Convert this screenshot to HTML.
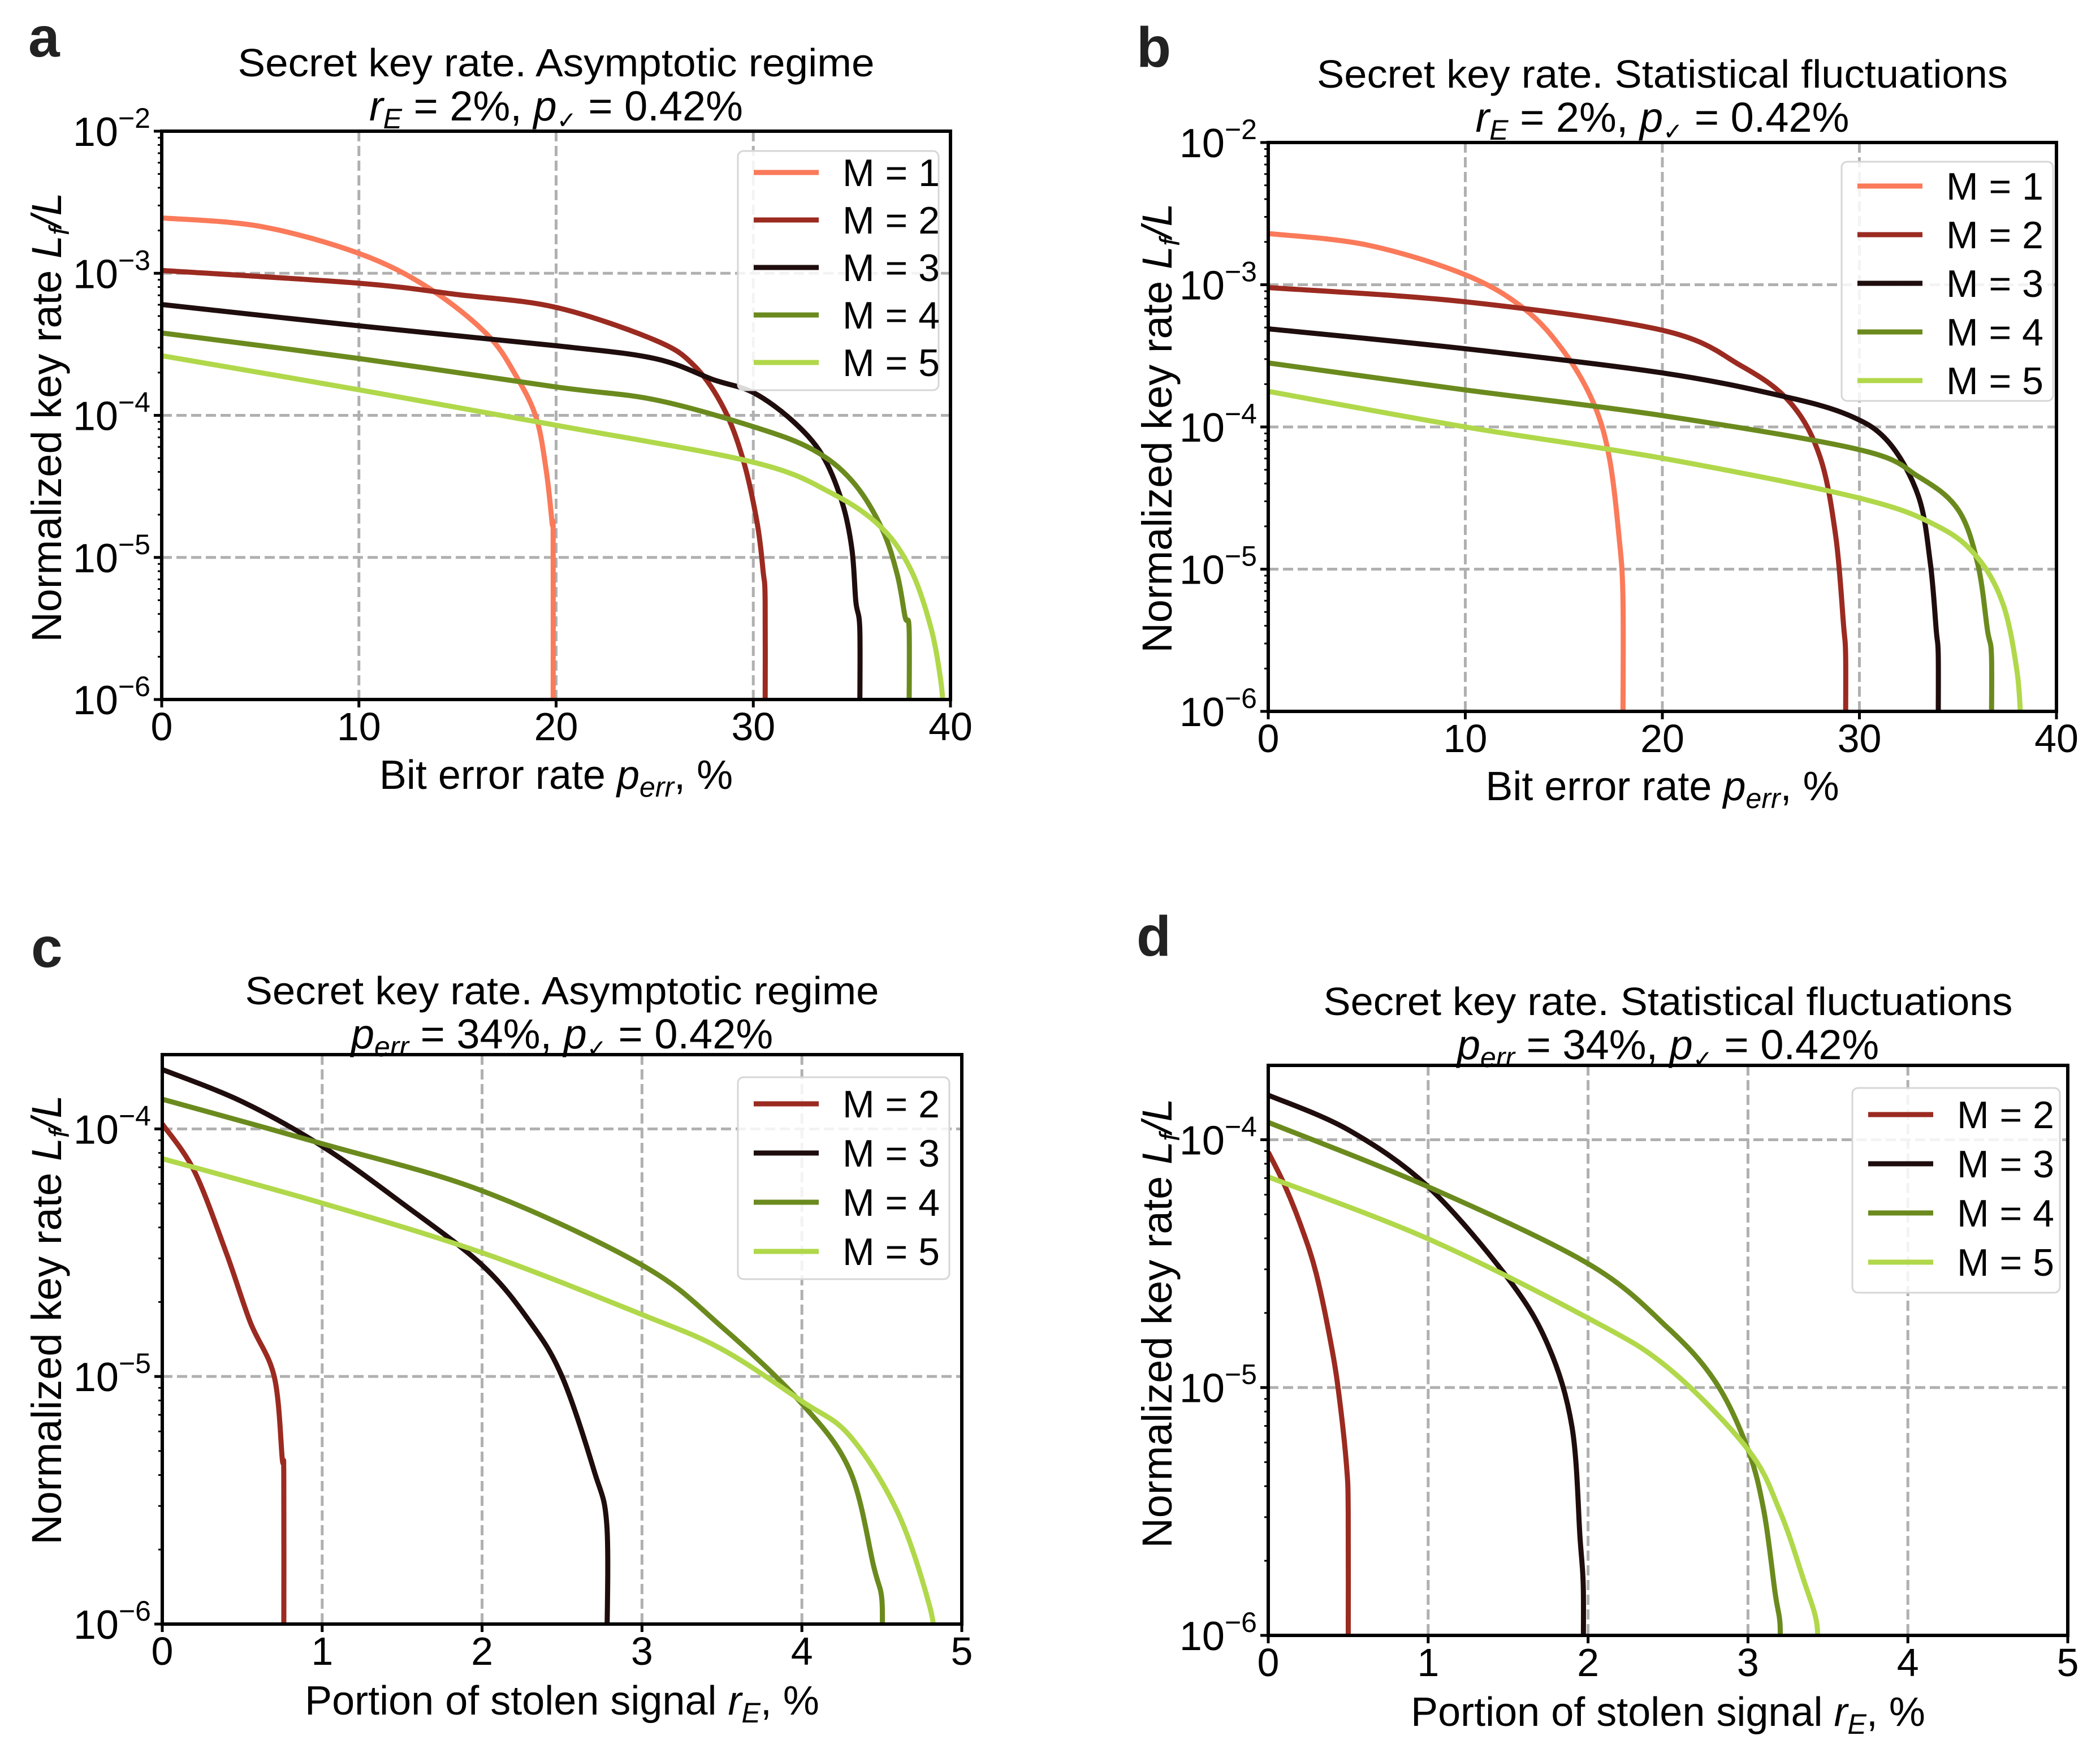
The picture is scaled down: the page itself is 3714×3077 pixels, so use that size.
<!DOCTYPE html>
<html><head><meta charset="utf-8">
<style>
html,body{margin:0;padding:0;background:#fff;}
svg{display:block;font-family:"Liberation Sans","DejaVu Sans",sans-serif;}
</style></head>
<body>
<svg id="fig" width="3714" height="3077" viewBox="0 0 3714 3077" xmlns="http://www.w3.org/2000/svg"></svg>
<script>
// ---- data: x values and log10(normalized key rate) ----
const aM1x=[0,5,10,13.5,16.5,18,19,19.5,19.8,19.85,19.85];
const aM1y=[-2.61,-2.67,-2.86,-3.10,-3.43,-3.73,-4.02,-4.39,-4.76,-4.85,-6.1];
const aM2x=[0,10,15,20,25,27,28.5,29.5,30.2,30.5,30.6,30.6];
const aM2y=[-2.98,-3.07,-3.15,-3.24,-3.47,-3.65,-3.95,-4.32,-4.76,-5.1,-5.3,-6.1];
const aM3x=[0,10,20,25,28,30,32,33.5,34.5,35,35.2,35.4,35.4];
const aM3y=[-3.22,-3.37,-3.51,-3.60,-3.75,-3.84,-4.04,-4.28,-4.61,-4.94,-5.31,-5.5,-6.1];
const aM4x=[0,10,20,25,30,33,35,36.5,37.3,37.7,37.9,37.9];
const aM4y=[-3.42,-3.60,-3.80,-3.89,-4.08,-4.24,-4.46,-4.79,-5.12,-5.42,-5.5,-6.1];
const aM5x=[0,10,20,30,34,36.5,38,39,39.5,39.65];
const aM5y=[-3.58,-3.82,-4.07,-4.33,-4.55,-4.79,-5.09,-5.49,-5.86,-6.1];

const bM1x=[0,5,10,13,15,16.5,17.3,17.8,18,18];
const bM1y=[-2.64,-2.72,-2.93,-3.17,-3.47,-3.83,-4.21,-4.77,-5.2,-6.1];
const bM2x=[0,10,20,24,26.5,28,28.8,29.2,29.3,29.3];
const bM2y=[-3.02,-3.12,-3.32,-3.57,-3.83,-4.21,-4.77,-5.4,-5.6,-6.1];
const bM3x=[0,10,20,26,29.5,31.5,33,33.6,33.9,34,34];
const bM3y=[-3.31,-3.45,-3.62,-3.78,-3.92,-4.11,-4.49,-4.96,-5.43,-5.6,-6.1];
const bM4x=[0,10,20,30,33,35,36,36.5,36.7,36.7];
const bM4y=[-3.55,-3.74,-3.92,-4.16,-4.35,-4.58,-4.96,-5.43,-5.6,-6.1];
const bM5x=[0,10,20,30,34,36,37.3,38,38.2];
const bM5y=[-3.75,-4.00,-4.22,-4.50,-4.70,-4.92,-5.25,-5.72,-6.1];

const cM2x=[0,0.2,0.4,0.55,0.7,0.75,0.76,0.76];
const cM2y=[-3.98,-4.17,-4.50,-4.78,-5.00,-5.33,-5.4,-6.1];
const cM3x=[0,0.5,1,1.5,2,2.3,2.5,2.7,2.78,2.78];
const cM3y=[-3.76,-3.89,-4.07,-4.30,-4.55,-4.78,-5.00,-5.38,-5.6,-6.1];
const cM4x=[0,1,2,3,3.5,4,4.3,4.45,4.5,4.5];
const cM4y=[-3.88,-4.06,-4.25,-4.55,-4.80,-5.11,-5.38,-5.77,-5.9,-6.1];
const cM5x=[0,1,2,3,3.5,4,4.3,4.6,4.8,4.83];
const cM5y=[-4.12,-4.30,-4.50,-4.75,-4.89,-5.10,-5.24,-5.55,-5.93,-6.1];

const dM2x=[0,0.1,0.2,0.3,0.4,0.45,0.49,0.5,0.5];
const dM2y=[-4.05,-4.18,-4.34,-4.54,-4.85,-5.07,-5.32,-5.5,-6.1];
const dM3x=[0,0.5,1,1.5,1.75,1.9,1.95,1.97,1.97];
const dM3y=[-3.82,-3.96,-4.19,-4.56,-4.83,-5.16,-5.61,-5.8,-6.1];
const dM4x=[0,1,2,2.5,2.8,3,3.1,3.17,3.2,3.2];
const dM4y=[-3.93,-4.19,-4.50,-4.76,-4.98,-5.25,-5.50,-5.83,-5.95,-6.1];
const dM5x=[0,1,2,2.5,3,3.2,3.35,3.43,3.43];
const dM5y=[-4.15,-4.40,-4.72,-4.92,-5.25,-5.50,-5.78,-5.95,-6.1];

const xTicksPerr=[0,10,20,30,40];
const xTicksRE=[0,1,2,3,4,5];
const yTicksAB=[-2,-3,-4,-5,-6];
const yTicksCD=[-4,-5,-6];

const COLORS={1:"#fa7a5a",2:"#9b2a20",3:"#1f0d0d",4:"#6b8a1e",5:"#b0d84a"};
const NS="http://www.w3.org/2000/svg";
const svg=document.getElementById('fig');

function mk(parent,tag,attrs,text){
  const e=document.createElementNS(NS,tag);
  for(const k in attrs) e.setAttribute(k,attrs[k]);
  if(text!==undefined) e.textContent=text;
  parent.appendChild(e);
  return e;
}

function smoothPath(pts){
  let d='M'+pts[0][0].toFixed(1)+','+pts[0][1].toFixed(1);
  for(let i=0;i<pts.length-1;i++){
    const p0=pts[Math.max(0,i-1)],p1=pts[i],p2=pts[i+1],p3=pts[Math.min(pts.length-1,i+2)];
    const c1=[p1[0]+(p2[0]-p0[0])/6,p1[1]+(p2[1]-p0[1])/6];
    const c2=[p2[0]-(p3[0]-p1[0])/6,p2[1]-(p3[1]-p1[1])/6];
    d+=' C'+c1[0].toFixed(1)+','+c1[1].toFixed(1)+' '+c2[0].toFixed(1)+','+c2[1].toFixed(1)+' '+p2[0].toFixed(1)+','+p2[1].toFixed(1);
  }
  return d;
}

function panel(p){
  const g=mk(svg,'g',{});
  
  
  const sx=v=>p.L+(v-p.xmin)/(p.xmax-p.xmin)*p.W;
  const sy=v=>p.T+(p.ymax-v)/(p.ymax-p.ymin)*p.H;
  const cp=mk(g,'clipPath',{id:'clip'+p.id});
  mk(cp,'rect',{x:p.L,y:p.T,width:p.W,height:p.H});
  p.grid.x.forEach(v=>{
    const l=mk(g,'line',{x1:sx(v),x2:sx(v),y1:p.T,y2:p.T+p.H,stroke:'#b0b0b0','stroke-width':5,'stroke-dasharray':'18,8'});
    
    
  });
  p.grid.y.forEach(v=>{
    const l=mk(g,'line',{x1:p.L,x2:p.L+p.W,y1:sy(v),y2:sy(v),stroke:'#b0b0b0','stroke-width':5,'stroke-dasharray':'18,8'});
    
    
  });
  p.series.forEach(s=>{
    const pts=s.x.map((v,i)=>[sx(v),sy(s.y[i])]);
    const path=mk(g,'path',{d:smoothPath(pts),fill:'none',stroke:COLORS[s.m],'stroke-width':9,'stroke-linejoin':'round','clip-path':'url(#clip'+p.id+')'});
    
    
  });
  for(let e=Math.ceil(p.ymin)-1;e<p.ymax;e++){
    for(let k=2;k<=9;k++){
      const v=e+Math.log10(k);
      if(v>p.ymax||v<p.ymin) continue;
      mk(g,'line',{x1:p.L-7,x2:p.L,y1:sy(v),y2:sy(v),stroke:'#000','stroke-width':3});
    }
  }
  const fr=mk(g,'rect',{x:p.L,y:p.T,width:p.W,height:p.H,fill:'none',stroke:'#000','stroke-width':6});
  
  
  p.xticks.forEach(v=>{
    mk(g,'line',{x1:sx(v),x2:sx(v),y1:p.T+p.H,y2:p.T+p.H+14,stroke:'#000','stroke-width':5});
    const t=mk(g,'text',{x:sx(v),y:p.T+p.H+72,'text-anchor':'middle','font-size':70},String(v));
    
    
  });
  p.yticks.forEach(v=>{
    mk(g,'line',{x1:p.L-14,x2:p.L,y1:sy(v),y2:sy(v),stroke:'#000','stroke-width':5});
    const t=mk(g,'text',{x:p.L-20,y:sy(v)+26,'text-anchor':'end','font-size':72});
    
    
    mk(t,'tspan',{},'10');
    mk(t,'tspan',{'font-size':50,dy:-32},'\u2212'+Math.abs(v));
  });
  const t1=mk(g,'text',{x:p.L+p.W/2,y:p.titleY,'text-anchor':'middle','font-size':70,textLength:p.titleW,lengthAdjust:'spacingAndGlyphs'},p.title);
  
  
  const t2=mk(g,'text',{x:p.L+p.W/2,y:p.titleY+78,'text-anchor':'middle','font-size':74});
  
  
  p.sub.forEach(seg=>{mk(t2,'tspan',seg.a||{},seg.t);});
  const xl=mk(g,'text',{x:p.L+p.W/2,y:p.xlabY,'text-anchor':'middle','font-size':72});
  
  
  p.xlab.forEach(seg=>{mk(xl,'tspan',seg.a||{},seg.t);});
  const yl=mk(g,'text',{x:0,y:0,'text-anchor':'middle','font-size':74,transform:'translate('+p.ylabX+','+p.ylabY+') rotate(-90)'});
  
  
  mk(yl,'tspan',{},'Normalized key rate ');
  mk(yl,'tspan',{'font-style':'italic'},'L');
  mk(yl,'tspan',{'font-style':'italic','font-size':50,dy:14},'f');
  mk(yl,'tspan',{'font-style':'italic',dy:-14},'/L');
  const pl=mk(g,'text',{x:p.letter[0],y:p.letter[1],'font-size':100,'font-weight':'bold',fill:'#222'},p.id);
  
  
  const lg=mk(g,'g',{});
  
  
  const b=p.leg;
  mk(lg,'rect',{x:b.x,y:b.y,width:b.w,height:b.h,rx:10,fill:'#fff','fill-opacity':0.85,stroke:'#d6d6d6','stroke-width':3});
  p.series.forEach((s,i)=>{
    const yy=b.y0+i*b.dy;
    const ent=mk(lg,'g',{});
    
    
    mk(ent,'line',{x1:b.x+28,x2:b.x+143,y1:yy,y2:yy,stroke:COLORS[s.m],'stroke-width':9});
    mk(ent,'text',{x:b.x+185,y:yy+24,'font-size':68},'M = '+s.m);
  });
}

const it={'font-style':'italic'};
const subE=[{t:'r',a:it},{t:'E',a:{'font-style':'italic','font-size':50,dy:14}},{t:' = 2%, ',a:{dy:-14}},{t:'p',a:it},{t:'\u2713',a:{'font-size':42,dy:14}},{t:' = 0.42%',a:{dy:-14}}];
const subP=[{t:'p',a:it},{t:'err',a:{'font-style':'italic','font-size':50,dy:14}},{t:' = 34%, ',a:{dy:-14}},{t:'p',a:it},{t:'\u2713',a:{'font-size':42,dy:14}},{t:' = 0.42%',a:{dy:-14}}];
const xlabPerr=[{t:'Bit error rate '},{t:'p',a:it},{t:'err',a:{'font-style':'italic','font-size':50,dy:14}},{t:', %',a:{dy:-14}}];
const xlabRE=[{t:'Portion of stolen signal '},{t:'r',a:it},{t:'E',a:{'font-style':'italic','font-size':50,dy:14}},{t:',  %',a:{dy:-14}}];

panel({id:'a',L:286,T:232,W:1395,H:1005,xmin:0,xmax:40,ymin:-6,ymax:-2,
  grid:{x:[10,20,30],y:[-3,-4,-5]},xticks:xTicksPerr,yticks:yTicksAB,
  title:'Secret key rate. Asymptotic regime',titleW:1126,titleY:135,sub:subE,xlab:xlabPerr,xlabY:1395,ylabX:108,ylabY:738,letter:[50,100],
  leg:{x:1305,y:267,w:355,h:423,y0:305,dy:84},
  series:[{m:1,x:aM1x,y:aM1y},{m:2,x:aM2x,y:aM2y},{m:3,x:aM3x,y:aM3y},{m:4,x:aM4x,y:aM4y},{m:5,x:aM5x,y:aM5y}]});
panel({id:'b',L:2243,T:252,W:1394,H:1006,xmin:0,xmax:40,ymin:-6,ymax:-2,
  grid:{x:[10,20,30],y:[-3,-4,-5]},xticks:xTicksPerr,yticks:yTicksAB,
  title:'Secret key rate. Statistical fluctuations',titleW:1222,titleY:155,sub:subE,xlab:xlabPerr,xlabY:1415,ylabX:2072,ylabY:757,letter:[2010,118],
  leg:{x:3257,y:286,w:374,h:423,y0:329,dy:86},
  series:[{m:1,x:bM1x,y:bM1y},{m:2,x:bM2x,y:bM2y},{m:3,x:bM3x,y:bM3y},{m:4,x:bM4x,y:bM4y},{m:5,x:bM5x,y:bM5y}]});
panel({id:'c',L:287,T:1865,W:1414,H:1007,xmin:0,xmax:5,ymin:-6,ymax:-3.7,
  grid:{x:[1,2,3,4],y:[-4,-5]},xticks:xTicksRE,yticks:yTicksCD,
  title:'Secret key rate. Asymptotic regime',titleW:1121,titleY:1776,sub:subP,xlab:xlabRE,xlabY:3032,ylabX:108,ylabY:2334,letter:[55,1710],
  leg:{x:1305,y:1905,w:374,h:357,y0:1952,dy:87},
  series:[{m:2,x:cM2x,y:cM2y},{m:3,x:cM3x,y:cM3y},{m:4,x:cM4x,y:cM4y},{m:5,x:cM5x,y:cM5y}]});
panel({id:'d',L:2243,T:1884,W:1414,H:1008,xmin:0,xmax:5,ymin:-6,ymax:-3.7,
  grid:{x:[1,2,3,4],y:[-4,-5]},xticks:xTicksRE,yticks:yTicksCD,
  title:'Secret key rate. Statistical fluctuations',titleW:1219,titleY:1795,sub:subP,xlab:xlabRE,xlabY:3052,ylabX:2072,ylabY:2340,letter:[2010,1690],
  leg:{x:3276,y:1924,w:367,h:362,y0:1971,dy:87},
  series:[{m:2,x:dM2x,y:dM2y},{m:3,x:dM3x,y:dM3y},{m:4,x:dM4x,y:dM4y},{m:5,x:dM5x,y:dM5y}]});
</script>
</body></html>
